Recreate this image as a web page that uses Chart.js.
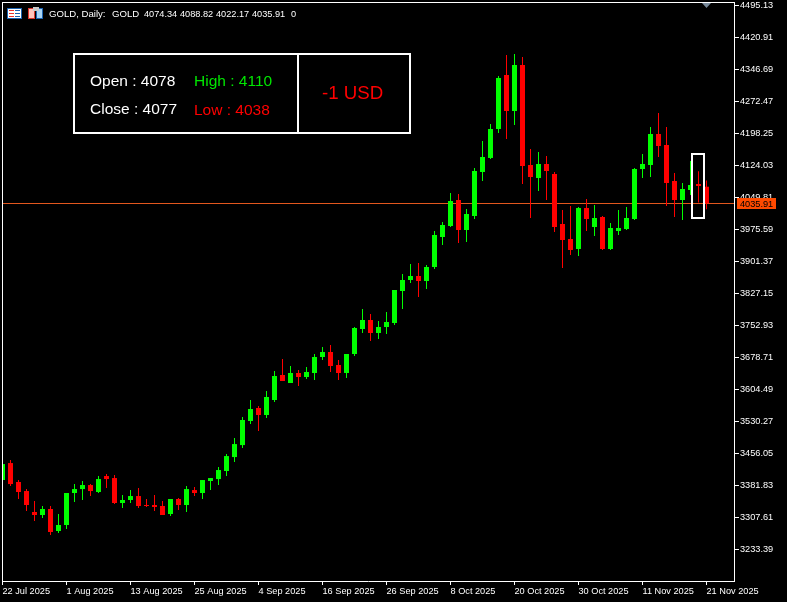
<!DOCTYPE html>
<html>
<head>
<meta charset="utf-8">
<title>GOLD, Daily</title>
<script src="https://cdn.jsdelivr.net/npm/chart.js@4/dist/chart.umd.min.js"></script>
<style>
    html, body { margin: 0; padding: 0; background: #000; overflow: hidden; }
    canvas { display: block; }
</style>
</head>
<body>
<canvas id="candles" width="787" height="602"></canvas>
<script>
const opens = [3394.1, 3433.4, 3389.4, 3368.5, 3319.9, 3312.9, 3326.8, 3275.8, 3289.7, 3363.9,
    3373.1, 3382.4, 3366.2, 3403.3, 3398.6, 3340.7, 3347.7, 3356.9, 3336.1, 3336.1,
    3333.8, 3315.2, 3350.0, 3336.1, 3370.8, 3363.9, 3391.7, 3396.3, 3414.9, 3447.3,
    3475.1, 3530.9, 3561.1, 3544.9, 3579.6, 3637.6, 3619.1, 3642.3, 3633.0, 3642.3,
    3679.4, 3691.0, 3660.8, 3642.3, 3686.3, 3744.3, 3765.2, 3735.0, 3748.9, 3758.2,
    3832.5, 3858.0, 3867.2, 3855.6, 3888.1, 3957.7, 3983.2, 4043.5, 3973.9, 4006.4,
    4108.5, 4141.0, 4208.2, 4333.4, 4249.9, 4356.6, 4124.7, 4094.5, 4127.0, 4103.8,
    3987.9, 3953.1, 3929.9, 4024.9, 3980.9, 4004.1, 3929.9, 3971.6, 3976.3, 3999.4,
    4115.4, 4124.7, 4196.6, 4171.1, 4087.6, 4043.5, 4066.7, 4080.6, 4074.34];
const highs = [3433.4, 3440.3, 3394.0, 3373.1, 3345.4, 3333.8, 3333.8, 3315.2, 3363.9, 3384.7,
    3391.7, 3384.7, 3403.3, 3407.9, 3405.6, 3359.2, 3370.8, 3375.5, 3350.0, 3359.2,
    3345.4, 3350.0, 3352.3, 3380.1, 3377.8, 3394.0, 3398.6, 3424.1, 3454.2, 3491.3,
    3540.2, 3579.6, 3565.7, 3600.5, 3646.9, 3674.7, 3658.5, 3649.2, 3656.2, 3686.3,
    3702.6, 3707.2, 3672.4, 3686.3, 3748.9, 3790.7, 3779.1, 3762.9, 3783.7, 3834.8,
    3871.9, 3895.1, 3897.4, 3892.8, 3971.6, 3992.5, 4059.8, 4057.4, 4022.6, 4117.8,
    4180.4, 4219.8, 4331.1, 4379.8, 4382.2, 4375.2, 4161.8, 4154.9, 4145.6, 4108.5,
    4020.3, 4029.6, 4027.3, 4045.8, 4031.9, 4006.4, 3990.2, 4020.3, 4027.3, 4117.8,
    4150.2, 4212.8, 4245.3, 4212.8, 4106.1, 4082.9, 4134.0, 4110, 4088.82];
const lows = [3391.8, 3380.1, 3350.0, 3322.2, 3299.0, 3306.0, 3266.5, 3271.2, 3280.4, 3343.1,
    3347.7, 3356.9, 3363.9, 3375.5, 3338.4, 3329.1, 3340.7, 3329.1, 3331.5, 3322.2,
    3312.9, 3310.6, 3324.5, 3319.9, 3356.9, 3350.0, 3370.8, 3382.4, 3403.3, 3435.7,
    3468.1, 3524.0, 3507.7, 3537.9, 3575.0, 3623.7, 3619.1, 3612.1, 3628.4, 3626.0,
    3672.4, 3644.6, 3626.0, 3630.7, 3681.7, 3735.0, 3716.5, 3721.1, 3732.7, 3753.6,
    3790.7, 3851.0, 3818.5, 3837.1, 3883.5, 3939.1, 3980.9, 3943.8, 3946.1, 3999.4,
    4087.6, 4138.6, 4198.9, 4185.0, 4217.5, 4080.6, 4001.8, 4064.4, 4043.5, 3969.3,
    3885.8, 3916.0, 3913.6, 3971.6, 3960.0, 3927.5, 3927.5, 3962.3, 3973.9, 3997.1,
    4094.5, 4096.9, 4143.3, 4029.6, 4004.1, 3997.1, 4055.1, 4038, 4022.17];
const closes = [3431.1, 3384.7, 3366.2, 3336.1, 3312.9, 3326.8, 3273.5, 3289.7, 3363.9, 3373.1,
    3382.4, 3368.5, 3396.3, 3396.3, 3340.7, 3347.7, 3356.9, 3333.8, 3333.8, 3331.5,
    3312.9, 3350.0, 3336.1, 3373.1, 3363.9, 3394.0, 3398.6, 3417.2, 3449.6, 3477.4,
    3533.3, 3558.8, 3544.9, 3586.6, 3635.3, 3623.7, 3642.3, 3633.0, 3644.6, 3679.4,
    3691.0, 3658.5, 3642.3, 3686.3, 3746.6, 3765.2, 3735.0, 3748.9, 3760.6, 3834.8,
    3858.0, 3867.2, 3855.6, 3888.1, 3962.3, 3985.5, 4041.2, 3973.9, 4011.0, 4110.8,
    4143.3, 4208.2, 4326.5, 4249.9, 4356.6, 4122.4, 4096.9, 4127.0, 4110.8, 3980.9,
    3950.7, 3927.5, 4024.9, 3999.4, 4001.8, 3929.9, 3978.6, 3978.6, 4001.8, 4115.4,
    4127.0, 4196.6, 4168.8, 4082.9, 4043.5, 4069.0, 4078.3, 4076.0, 4035.91];

const tickDates = ['22 Jul 2025', '1 Aug 2025', '13 Aug 2025', '25 Aug 2025', '4 Sep 2025', '16 Sep 2025',
    '26 Sep 2025', '8 Oct 2025', '20 Oct 2025', '30 Oct 2025', '11 Nov 2025', '21 Nov 2025'];
const barsPerDateTick = 8;
const priceTicks = [4495.13, 4420.91, 4346.69, 4272.47, 4198.25, 4124.03, 4049.81, 3975.59, 3901.37,
    3827.15, 3752.93, 3678.71, 3604.49, 3530.27, 3456.05, 3381.83, 3307.61, 3233.39];

const lastPrice = 4035.91;
const markedBar = 87;
const markedTop = 4152.5;
const markedBottom = 3999.4;

const bull = '#00ff00';
const bear = '#ff0000';
const labelFont = '9.2px "Liberation Sans"';

const wicks = highs.map((h, i) => ({ x: i, y: [lows[i], h] }));
const bodies = opens.map((o, i) => ({ x: i, y: [o, closes[i]] }));
const barColors = opens.map((o, i) => closes[i] >= o ? bull : bear);

// mt5 style bits that are not part of the axes
const decor = {
    id: 'decor',
    beforeDatasetsDraw(chart) {
        const { ctx, chartArea, scales } = chart;
        const y = Math.round(scales.y.getPixelForValue(lastPrice));
        ctx.save();
        ctx.fillStyle = '#e2571e';
        ctx.fillRect(chartArea.left, y, chartArea.right - chartArea.left, 1);
        ctx.restore();
    },
    afterDraw(chart) {
        const { ctx, chartArea, scales } = chart;
        ctx.save();

        // top and left frame
        ctx.fillStyle = '#fff';
        ctx.fillRect(2, 2, chartArea.right - 2, 1);
        ctx.fillRect(2, 2, 1, chartArea.bottom - 2);

        // chart shift marker
        ctx.fillStyle = '#778899';
        ctx.beginPath();
        ctx.moveTo(702, 3);
        ctx.lineTo(711, 3);
        ctx.lineTo(706.5, 8);
        ctx.fill();

        // box around the marked candle
        const mx = scales.x.getPixelForValue(markedBar);
        const top = Math.round(scales.y.getPixelForValue(markedTop));
        const bottom = Math.round(scales.y.getPixelForValue(markedBottom));
        ctx.strokeStyle = '#fff';
        ctx.lineWidth = 2;
        ctx.strokeRect(mx - 6.5, top + 1, 12, bottom - top - 2);

        // price tag
        const py = Math.round(scales.y.getPixelForValue(lastPrice));
        ctx.fillStyle = '#ff4a00';
        ctx.fillRect(737, py - 5, 39, 11);
        ctx.fillStyle = '#000';
        ctx.font = labelFont;
        ctx.textBaseline = 'alphabetic';
        ctx.fillText(lastPrice.toFixed(2), 740, py + 4);

        // header line
        ctx.fillStyle = '#fff';
        ctx.font = '9.6px "Liberation Sans"';
        ctx.fillText('GOLD, Daily:', 49, 17);
        ctx.fillText('GOLD', 112, 17);
        ctx.font = labelFont;
        ctx.fillText('4074.34', 144, 17);
        ctx.fillText('4088.82', 180, 17);
        ctx.fillText('4022.17', 216, 17);
        ctx.fillText('4035.91', 252, 17);
        ctx.fillText('0', 291, 17);

        // header icons
        ctx.fillStyle = '#1a62b0';
        ctx.fillRect(7, 8, 15, 11);
        ctx.fillStyle = '#fff';
        ctx.fillRect(8, 9, 13, 9);
        ctx.fillStyle = '#e8322c';
        ctx.fillRect(9, 10, 5, 1);
        ctx.fillRect(9, 13, 5, 1);
        ctx.fillRect(9, 16, 5, 1);
        ctx.fillStyle = '#1a62b0';
        ctx.fillRect(15, 10, 5, 1);
        ctx.fillRect(15, 13, 5, 1);
        ctx.fillRect(15, 16, 5, 1);

        ctx.fillStyle = '#d8342c';
        ctx.fillRect(28, 8, 7, 11);
        ctx.fillStyle = '#1a62b0';
        ctx.fillRect(36, 8, 7, 11);
        ctx.fillStyle = '#ffc4bc';
        ctx.fillRect(29, 9, 5, 9);
        ctx.fillStyle = '#a8d4f4';
        ctx.fillRect(37, 9, 5, 9);
        ctx.fillStyle = '#c8c8c8';
        ctx.fillRect(33, 7, 6, 4);

        // info panel
        ctx.strokeStyle = '#fff';
        ctx.lineWidth = 2;
        ctx.strokeRect(74, 54, 336, 79);
        ctx.fillStyle = '#fff';
        ctx.fillRect(297, 54, 2, 79);

        ctx.font = '15.5px "Liberation Sans"';
        ctx.fillStyle = '#fff';
        ctx.fillText('Open : 4078', 90, 86);
        ctx.fillText('Close : 4077', 90, 114);
        ctx.fillStyle = '#00e600';
        ctx.fillText('High : 4110', 194, 86);
        ctx.fillStyle = '#ff0000';
        ctx.fillText('Low : 4038', 194, 115);
        ctx.font = '18.7px "Liberation Sans"';
        ctx.fillText('-1 USD', 322, 99);

        ctx.restore();
    }
};

const chart = new Chart(document.getElementById('candles').getContext('2d'), {
    type: 'bar',
    data: {
        datasets: [
            { data: wicks, barThickness: 1, backgroundColor: barColors, inflateAmount: 0, grouped: false },
            { data: bodies, barThickness: 5, backgroundColor: barColors, inflateAmount: 0, grouped: false }
        ]
    },
    options: {
        responsive: false,
        animation: false,
        layout: { padding: { left: 2, top: 2, right: 0, bottom: 0 } },
        plugins: { legend: { display: false }, tooltip: { enabled: false } },
        scales: {
            x: {
                type: 'linear',
                offset: false,
                min: -0.0625,
                max: 91.4375,
                afterFit(scale) {
                    scale.height = 21;
                    scale.paddingLeft = 0;
                    scale.paddingRight = 0;
                },
                afterBuildTicks(scale) {
                    scale.ticks = tickDates.map((d, i) => ({ value: i * barsPerDateTick }));
                },
                border: { display: true, color: '#fff' },
                grid: { offset: false, drawOnChartArea: false, drawTicks: true, tickLength: 4, color: '#fff' },
                ticks: {
                    autoSkip: false,
                    maxRotation: 0,
                    align: 'start',
                    padding: 1,
                    color: '#fff',
                    font: { family: '"Liberation Sans"', size: 9.2 },
                    callback: (value) => tickDates[value / barsPerDateTick]
                }
            },
            y: {
                position: 'right',
                min: 3159.83,
                max: 4502.76,
                afterFit(scale) {
                    scale.width = 53;
                    scale.paddingTop = 0;
                    scale.paddingBottom = 0;
                },
                afterBuildTicks(scale) {
                    scale.ticks = priceTicks.map((v) => ({ value: v }));
                },
                border: { display: true, color: '#fff' },
                grid: { drawOnChartArea: false, drawTicks: true, tickLength: 5, color: '#fff' },
                ticks: {
                    autoSkip: false,
                    padding: 1,
                    color: '#fff',
                    font: { family: '"Liberation Sans"', size: 9.2 },
                    callback: (value) => value.toFixed(2)
                }
            }
        }
    },
    plugins: [decor]
});
</script>
</body>
</html>
